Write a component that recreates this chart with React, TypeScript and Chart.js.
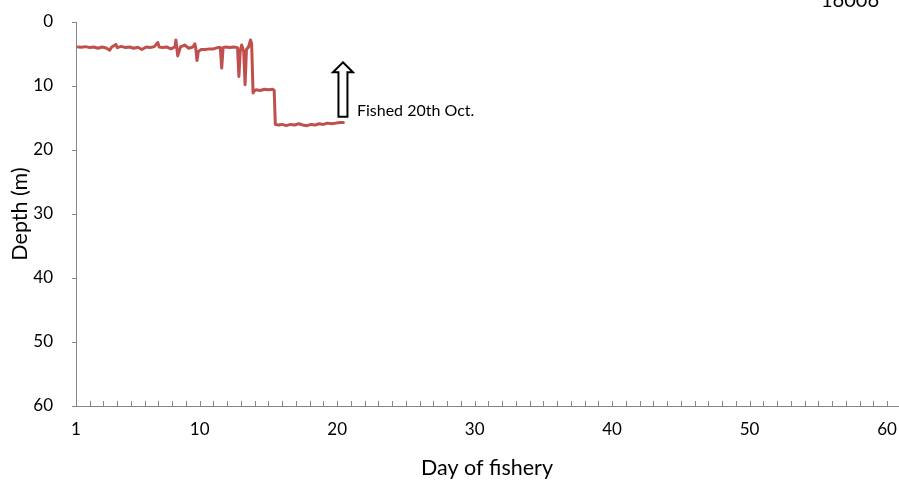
import React, { useEffect, useRef } from "react";
import { Chart, registerables } from "chart.js";

Chart.register(...registerables);

// Day of fishery (x) and depth in metres (y)
const days = [
  1.15, 1.4, 1.7, 2.0, 2.3, 2.6, 2.9, 3.2, 3.45, 3.6, 3.9, 4.0, 4.3, 4.6, 4.9, 5.2, 5.5, 5.8, 6.1, 6.4,
  6.7, 6.95, 7.05, 7.3, 7.6, 7.9, 8.2, 8.27, 8.33, 8.4, 8.6, 8.9, 9.2, 9.5, 9.65, 9.72, 9.8, 9.9, 10.1,
  10.4, 10.7, 11.0, 11.3, 11.5, 11.6, 11.7, 11.9, 12.2, 12.5, 12.75, 12.85, 12.95, 13.05, 13.2, 13.3,
  13.4, 13.55, 13.7, 13.78, 13.88, 13.95, 14.1, 14.4, 14.7, 15.0, 15.3, 15.42, 15.5, 15.7, 16.0, 16.3,
  16.6, 16.9, 17.2, 17.5, 17.8, 18.1, 18.4, 18.7, 19.0, 19.3, 19.6, 19.9, 20.2, 20.45,
];
const depths = [
  3.9, 3.95, 3.85, 4.0, 3.9, 4.1, 3.9, 4.05, 4.4, 3.9, 3.5, 4.0, 3.8, 4.0, 3.9, 4.1, 3.95, 4.3, 3.9, 4.0,
  3.85, 3.2, 3.9, 4.0, 3.9, 4.2, 3.9, 2.8, 4.0, 5.3, 3.9, 3.6, 4.1, 3.9, 3.4, 4.2, 6.0, 4.6, 4.3,
  4.3, 4.2, 4.2, 4.0, 4.0, 7.2, 4.0, 3.9, 4.0, 3.9, 4.0, 8.5, 4.5, 3.6, 4.6, 9.8,
  4.3, 3.9, 2.8, 3.5, 11.1, 10.8, 10.6, 10.7, 10.5, 10.6, 10.5, 10.7, 16.0, 16.1, 16.0, 16.2,
  16.0, 16.1, 15.9, 16.1, 16.2, 16.0, 16.1, 15.9, 16.0, 15.8, 15.9, 15.8, 15.7, 15.7,
];

const xLabelDays = [1, 10, 20, 30, 40, 50, 60];
const yTicks = [0, 10, 20, 30, 40, 50, 60];

const tagId = "16006";
const noteText = "Fished 20th Oct.";
const arrowDay = 20.42;
const arrowTopDepth = 6.3;
const arrowBottomDepth = 14.8;

const FONT = "Lato, 'Open Sans', sans-serif";
const AXIS_GRAY = "#868686";

const zeroPad = (s: any) => {
  s.paddingLeft = 0;
  s.paddingRight = 0;
  s.paddingTop = 0;
  s.paddingBottom = 0;
};

const extrasPlugin = {
  id: "extras",
  afterDraw(chart: any) {
    const { ctx, scales } = chart;
    const xs = scales.x;
    const ys = scales.y;
    const area = chart.chartArea;
    ctx.save();
    // inward minor tick marks on x axis, one per day
    ctx.strokeStyle = AXIS_GRAY;
    ctx.lineWidth = 1;
    ctx.beginPath();
    for (let d = 2; d <= 60; d++) {
      const px = Math.round(xs.getPixelForValue(d)) + 0.5;
      ctx.moveTo(px, area.bottom);
      ctx.lineTo(px, area.bottom - 5);
    }
    ctx.stroke();

    // hollow arrow
    const tx = xs.getPixelForValue(arrowDay);
    const ty = ys.getPixelForValue(arrowTopDepth);
    const by = ys.getPixelForValue(arrowBottomDepth);
    const headH = 10;
    const headW = 10;
    const shaftW = 4.5;
    ctx.beginPath();
    ctx.moveTo(tx, ty);
    ctx.lineTo(tx + headW, ty + headH);
    ctx.lineTo(tx + shaftW, ty + headH);
    ctx.lineTo(tx + shaftW, by);
    ctx.lineTo(tx - shaftW, by);
    ctx.lineTo(tx - shaftW, ty + headH);
    ctx.lineTo(tx - headW, ty + headH);
    ctx.closePath();
    ctx.fillStyle = "#ffffff";
    ctx.fill();
    ctx.strokeStyle = "#000000";
    ctx.lineWidth = 2;
    ctx.lineJoin = "miter";
    ctx.stroke();

    // note text
    ctx.fillStyle = "#000000";
    ctx.font = `16px ${FONT}`;
    ctx.textAlign = "left";
    ctx.textBaseline = "alphabetic";
    ctx.fillText(noteText, tx + 14, by - 1);

    // id label at top right
    ctx.font = `20px ${FONT}`;
    ctx.textAlign = "left";
    ctx.textBaseline = "alphabetic";
    ctx.fillText(tagId, 821, 7);
    ctx.restore();
  },
};

export default function App() {
  const ref = useRef<HTMLCanvasElement | null>(null);
  useEffect(() => {
    if (!ref.current) return;
    const chart = new Chart(ref.current, {
      type: "line",
      data: {
        datasets: [
          {
            data: days.map((d, i) => ({ x: d, y: depths[i] })),
            borderColor: "#C0504D",
            borderWidth: 3,
            borderJoinStyle: "round",
            borderCapStyle: "round",
            pointRadius: 0,
            tension: 0,
            fill: false,
          },
        ],
      },
      options: {
        responsive: false,
        animation: false,
        layout: { padding: { top: 22, right: 1, left: 0, bottom: 0 } },
        plugins: { legend: { display: false }, tooltip: { enabled: false } },
        scales: {
          x: {
            type: "linear",
            min: 1,
            max: 60.8,
            afterBuildTicks: (s: any) => {
              s.ticks = xLabelDays.map((v) => ({ value: v }));
            },
            afterFit: (s: any) => {
              s.height = 83;
              zeroPad(s);
            },
            ticks: {
              autoSkip: false,
              maxRotation: 0,
              padding: 13,
              color: "#000",
              font: { family: FONT, size: 17 },
              callback: (v: any) => String(v),
            },
            grid: { display: false, drawTicks: false },
            border: { display: true, color: AXIS_GRAY, width: 1 },
            title: {
              display: true,
              text: "Day of fishery",
              color: "#000",
              font: { family: FONT, size: 21.5 },
              padding: { top: 0, bottom: 8 },
            },
          },
          y: {
            type: "linear",
            reverse: true,
            min: 0,
            max: 60,
            afterBuildTicks: (s: any) => {
              s.ticks = yTicks.map((v) => ({ value: v }));
            },
            afterFit: (s: any) => {
              s.width = 76;
              zeroPad(s);
            },
            ticks: {
              padding: 19,
              color: "#000",
              font: { family: FONT, size: 17 },
            },
            grid: {
              drawOnChartArea: false,
              drawTicks: true,
              tickLength: 4,
              color: AXIS_GRAY,
            },
            border: { display: true, color: AXIS_GRAY, width: 1 },
            title: {
              display: true,
              text: "Depth (m)",
              color: "#000",
              font: { family: FONT, size: 21.5 },
              padding: { top: 7, bottom: 0 },
            },
          },
        },
      },
      plugins: [extrasPlugin],
    });
    return () => chart.destroy();
  }, []);
  return (
    <div style={{ position: "absolute", left: 0, top: 0, width: 899, height: 489, background: "#fff" }}>
      <canvas ref={ref} width={899} height={489} />
    </div>
  );
}
